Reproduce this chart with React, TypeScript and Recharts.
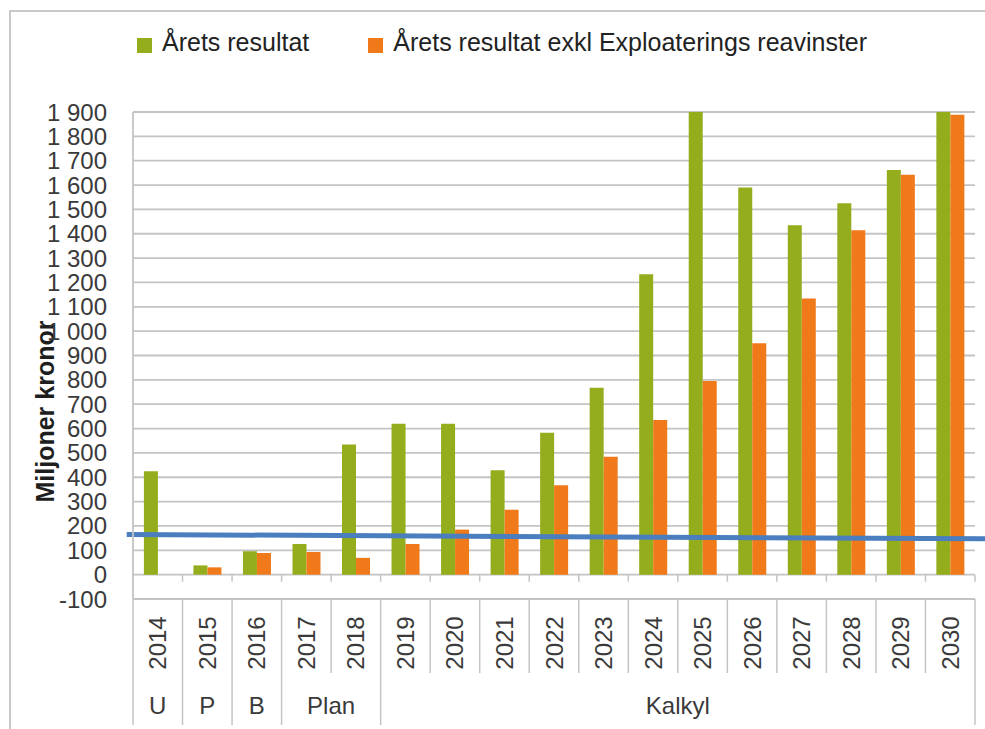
import React from 'react';
import { BarChart, Bar, XAxis, YAxis, CartesianGrid, ReferenceLine, Legend } from 'recharts';

const years = ['2014', '2015', '2016', '2017', '2018', '2019', '2020', '2021', '2022', '2023', '2024', '2025', '2026', '2027', '2028', '2029', '2030'];
const aretsResultat = [425, 38, 96, 126, 535, 620, 620, 429, 583, 768, 1234, 1900, 1590, 1435, 1525, 1662, 1900];
const exklExploatering = [0, 30, 89, 93, 69, 126, 185, 267, 367, 484, 635, 795, 950, 1134, 1414, 1642, 1889];
const yTicks = [-100, 0, 100, 200, 300, 400, 500, 600, 700, 800, 900, 1000, 1100, 1200, 1300, 1400, 1500, 1600, 1700, 1800, 1900];
const groupLabels = ['U', 'P', 'B', 'Plan', 'Kalkyl'];
const groupSpans = [1, 1, 1, 2, 12];
const seriesNames = ['Årets resultat', 'Årets resultat exkl Exploaterings reavinster'];
const blueLineX = [-0.12, 17.2];
const blueLineY = [165, 146];

const GREEN = '#93AD1D';
const ORANGE = '#F07919';
const GRID = '#c4c4c4';
const TEXT = '#3a3a3a';
const FONT = '"Liberation Sans", Arial, sans-serif';

const W = 985;
const H = 729;
const M = { top: 112, right: 10, bottom: 4, left: 0 };
const Y_AXIS_W = 133;
const X_AXIS_H = 126;
const PLOT_W = W - M.left - M.right - Y_AXIS_W;
const PLOT_H = H - M.top - M.bottom - X_AXIS_H;
const BAND = PLOT_W / years.length;
const STEP = PLOT_H / (yTicks.length - 1);

const data = years.map((y, i) => ({ year: y, a: aretsResultat[i], b: exklExploatering[i] }));

const groupStarts: number[] = [];
{
  let s = 0;
  groupSpans.forEach((sp) => {
    groupStarts.push(s);
    s += sp;
  });
}

const fmt = (v: number) => {
  if (Math.abs(v) >= 1000) {
    const th = Math.floor(v / 1000);
    const rest = String(Math.abs(v) % 1000).padStart(3, '0');
    return `${th} ${rest}`;
  }
  return String(v);
};

const XTick = (props: any) => {
  const { x, y, payload } = props;
  const i = typeof props.index === 'number' ? props.index : years.indexOf(payload.value);
  const left = x - BAND / 2;
  const right = x + BAND / 2;
  const gIdx = groupStarts.indexOf(i);
  const isBoundary = gIdx >= 0;
  const last = i === years.length - 1;
  const ty = y + 44;
  const zeroY = y - STEP;
  return (
    <g>
      {i > 0 && <line x1={left} x2={left} y1={zeroY} y2={zeroY + 7} stroke={GRID} strokeWidth={1.5} />}
      {last && <line x1={right} x2={right} y1={zeroY} y2={zeroY + 7} stroke={GRID} strokeWidth={1.5} />}
      <line x1={left} x2={left} y1={y} y2={y + (isBoundary ? X_AXIS_H : 74)} stroke={GRID} strokeWidth={1.5} />
      {last && <line x1={right} x2={right} y1={y} y2={y + X_AXIS_H} stroke={GRID} strokeWidth={1.5} />}
      <text
        x={x}
        y={ty}
        transform={`rotate(-90 ${x} ${ty})`}
        textAnchor="middle"
        dominantBaseline="central"
        fontSize={24}
        fontFamily={FONT}
        fill={TEXT}
      >
        {payload.value}
      </text>
      {isBoundary && (
        <text
          x={left + (groupSpans[gIdx] * BAND) / 2}
          y={y + 106}
          textAnchor="middle"
          dominantBaseline="central"
          fontSize={24}
          fontFamily={FONT}
          fill={TEXT}
        >
          {groupLabels[gIdx]}
        </text>
      )}
    </g>
  );
};

const renderLegend = (props: any) => {
  const items = (props.payload || []).filter((p: any) => p.dataKey === 'a' || p.dataKey === 'b');
  return (
    <div style={{ display: 'flex', alignItems: 'center', fontFamily: FONT, fontSize: 25, color: '#222', lineHeight: '29px', whiteSpace: 'nowrap' }}>
      {items.map((it: any, k: number) => (
        <div key={k} style={{ display: 'flex', alignItems: 'center', marginRight: k === 0 ? 59 : 0 }}>
          <span style={{ display: 'inline-block', width: 15, height: 15, background: it.color, marginRight: 10, position: 'relative', top: 3 }} />
          <span>{it.value}</span>
        </div>
      ))}
    </div>
  );
};

const YLabel = (props: any) => {
  const vb = props.viewBox || { x: 0, y: M.top, width: Y_AXIS_W, height: PLOT_H };
  const cx = vb.x + 45;
  const cy = vb.y + vb.height / 2 + 56;
  return (
    <text
      x={cx}
      y={cy}
      transform={`rotate(-90 ${cx} ${cy})`}
      textAnchor="middle"
      dominantBaseline="central"
      fontSize={25}
      fontWeight="bold"
      fontFamily={FONT}
      fill="#1e1e1e"
    >
      Miljoner kronor
    </text>
  );
};

export default function App() {
  return (
    <div style={{ position: 'absolute', left: 0, top: 0, width: W, height: H, background: '#fff', overflow: 'hidden' }}>
      <div style={{ position: 'absolute', left: 9, top: 10, width: W, height: H, borderLeft: '2px solid #c8c8c8', borderTop: '2px solid #c8c8c8', pointerEvents: 'none' }} />
      <BarChart width={W} height={H} data={data} margin={M} barCategoryGap="22%" barGap={0}>
        <CartesianGrid horizontal vertical={false} stroke={GRID} strokeWidth={1.8} />
        <XAxis
          dataKey="year"
          interval={0}
          height={X_AXIS_H}
          axisLine={false}
          tickLine={false}
          tickSize={0}
          tickMargin={0}
          tick={<XTick />}
        />
        <XAxis xAxisId="line" type="number" domain={[0, years.length]} hide />
        <YAxis
          width={Y_AXIS_W}
          domain={[-100, 1900]}
          ticks={yTicks}
          interval={0}
          tickFormatter={fmt}
          axisLine={{ stroke: GRID, strokeWidth: 1.8 }}
          tickLine={false}
          tickSize={0}
          tickMargin={26}
          tick={{ fontSize: 24, fill: TEXT, fontFamily: FONT }}
          label={(p: any) => <YLabel {...p} />}
        />
        <Legend
          layout="horizontal"
          verticalAlign="middle"
          align="center"
          wrapperStyle={{ top: 28, left: 137, width: 'auto' }}
          content={renderLegend}
        />
        <Bar dataKey="a" name={seriesNames[0]} fill={GREEN} isAnimationActive={false} />
        <Bar dataKey="b" name={seriesNames[1]} fill={ORANGE} isAnimationActive={false} />
        <ReferenceLine
          xAxisId="line"
          segment={[{ x: blueLineX[0], y: blueLineY[0] }, { x: blueLineX[1], y: blueLineY[1] }]}
          stroke="#4a7ebf"
          strokeWidth={5}
          ifOverflow="visible"
        />
      </BarChart>
    </div>
  );
}
